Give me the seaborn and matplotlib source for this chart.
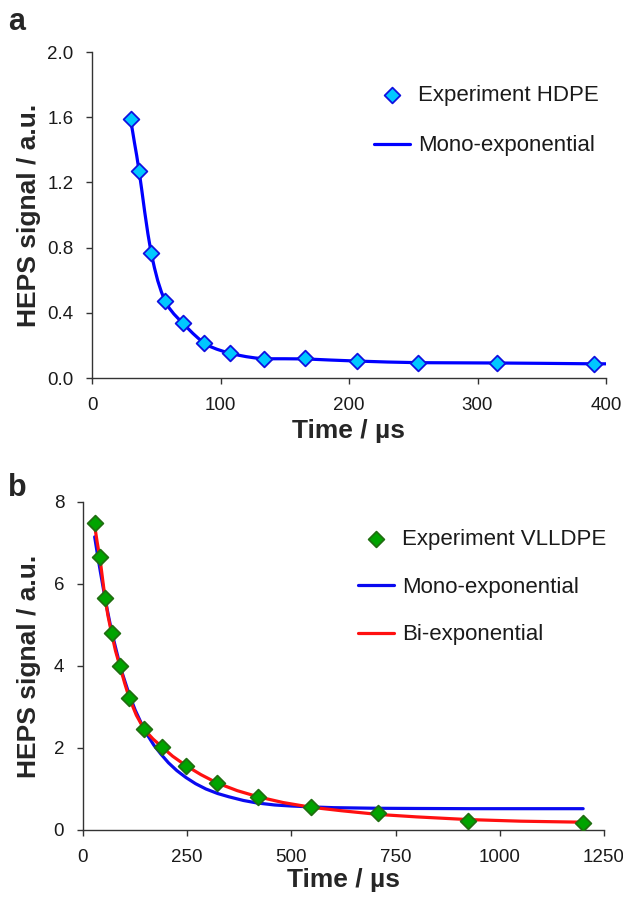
import matplotlib
matplotlib.use("Agg")
import matplotlib.pyplot as plt
import seaborn as sns
import pandas as pd

# ---------------- data: panel a (HDPE) ----------------
a_time = [30, 36.6, 46, 57, 71, 87, 107.5, 134, 166, 206, 254, 315, 391]
a_signal = [1.587, 1.272, 0.769, 0.470, 0.338, 0.216, 0.153, 0.118, 0.122, 0.106, 0.094, 0.092, 0.087]
# mono-exponential fit curve, read along the drawn (smoothed) line
a_mono_t = [30, 31.6, 33.1, 34.8, 36.6, 38.7, 41.0, 43.5, 46, 48.6, 51.2, 54.0, 57, 60.2, 63.7, 67.2,
            71, 74.8, 78.6, 82.8, 87, 92, 97, 102, 107.5, 114, 120, 127, 134, 150, 166, 186, 206, 230,
            254, 285, 315, 350, 391, 400]
a_mono_y = [1.587, 1.513, 1.441, 1.364, 1.272, 1.155, 1.020, 0.885, 0.769, 0.676, 0.596, 0.528, 0.470, 0.428,
            0.393, 0.364, 0.338, 0.303, 0.273, 0.243, 0.216, 0.193, 0.177, 0.164, 0.153, 0.140, 0.131, 0.123,
            0.118, 0.118, 0.117, 0.110, 0.104, 0.098, 0.094, 0.093, 0.092, 0.090, 0.087, 0.087]

# ---------------- data: panel b (VLLDPE) ----------------
b_time = [28.7, 41.1, 52.6, 68.8, 88.9, 110.9, 147.2, 189.2, 246.6, 321.1, 420.5, 546.6, 708.1, 923.2, 1200.3]
b_signal = [7.48, 6.65, 5.66, 4.80, 4.00, 3.23, 2.47, 2.02, 1.57, 1.14, 0.80, 0.555, 0.408, 0.229, 0.163]
b_mono_t = [28, 35, 42, 50, 58, 66, 75, 85, 95, 110, 125, 140, 155, 170, 187, 205, 225, 247, 270, 295, 323,
            350, 385, 417, 460, 500, 544, 600, 706, 800, 927, 1050, 1200]
b_mono_y = [7.15, 6.70, 6.28, 5.82, 5.38, 4.98, 4.58, 4.17, 3.80, 3.33, 2.93, 2.60, 2.31, 2.07, 1.85, 1.64,
            1.45, 1.28, 1.13, 1.00, 0.89, 0.81, 0.72, 0.66, 0.61, 0.585, 0.565, 0.545, 0.53, 0.525, 0.52, 0.52, 0.52]
b_bi_t = [28, 34, 41, 47, 53, 60, 69, 78, 89, 100, 111, 128, 147, 168, 189, 215, 247, 283, 321, 370, 420,
          480, 547, 620, 708, 800, 923, 1050, 1200]
b_bi_y = [7.42, 7.02, 6.60, 6.12, 5.65, 5.22, 4.78, 4.37, 3.98, 3.58, 3.22, 2.80, 2.45, 2.22, 2.03, 1.80,
          1.57, 1.35, 1.15, 0.96, 0.81, 0.67, 0.555, 0.47, 0.38, 0.32, 0.255, 0.215, 0.19]

a_xticks = [0, 100, 200, 300, 400]
a_yticks = [0.0, 0.4, 0.8, 1.2, 1.6, 2.0]
b_xticks = [0, 250, 500, 750, 1000, 1250]
b_yticks = [0, 2, 4, 6, 8]

sns.set_style("ticks")
plt.rcParams['font.family'] = ['Liberation Sans', 'DejaVu Sans']

fig = plt.figure(figsize=(6.23, 8.98), dpi=100)
W, H = 623, 898

def axes_px(x0, x1, ytop, ybot):
    return fig.add_axes([x0 / W, 1 - ybot / H, (x1 - x0) / W, (ybot - ytop) / H])

A1 = (92, 606, 52, 378)
A2 = (83, 604, 502, 830)
ax1 = axes_px(*A1)
ax2 = axes_px(*A2)

df_a = pd.DataFrame({"t": a_time, "y": a_signal})
df_am = pd.DataFrame({"t": a_mono_t, "y": a_mono_y})
df_b = pd.DataFrame({"t": b_time, "y": b_signal})
df_bm = pd.DataFrame({"t": b_mono_t, "y": b_mono_y})
df_bb = pd.DataFrame({"t": b_bi_t, "y": b_bi_y})

msize = 64

# panel a
sns.scatterplot(data=df_a, x="t", y="y", ax=ax1, marker="D", s=msize,
                color="#00C8FF", edgecolor="#1010E0", linewidth=1.3,
                label="Experiment HDPE", zorder=4)
sns.lineplot(data=df_am, x="t", y="y", ax=ax1, color="#0000FF", linewidth=2.3,
             label="Mono-exponential", sort=False, zorder=3)

# panel b
sns.scatterplot(data=df_b, x="t", y="y", ax=ax2, marker="D", s=msize,
                color="#00A400", edgecolor="#1F6F10", linewidth=1.3,
                label="Experiment VLLDPE", zorder=4)
sns.lineplot(data=df_bm, x="t", y="y", ax=ax2, color="#0A0AF0", linewidth=2.3,
             label="Mono-exponential", sort=False, zorder=2)
sns.lineplot(data=df_bb, x="t", y="y", ax=ax2, color="#FF1010", linewidth=2.3,
             label="Bi-exponential", sort=False, zorder=3)

for ax, A, xt, yt, fmt, xl_off in [(ax1, A1, a_xticks, a_yticks, "{:.1f}", 41),
                                   (ax2, A2, b_xticks, b_yticks, "{:d}", 38)]:
    x0, x1, ytop, ybot = A
    ax.set_xlim(xt[0], xt[-1])
    ax.set_ylim(yt[0], yt[-1])
    ax.set_xticks(xt)
    ax.set_yticks(yt)
    ax.set_yticklabels([fmt.format(v) for v in yt])
    ax.set_xticklabels([str(v) for v in xt])
    for sp in ["top", "right"]:
        ax.spines[sp].set_visible(False)
    for sp in ["left", "bottom"]:
        ax.spines[sp].set_color("#333333")
        ax.spines[sp].set_linewidth(1.0)
    ax.tick_params(direction="out", length=4, width=1.0, color="#333333",
                   labelsize=13.5, labelcolor="#1a1a1a", pad=9.5)
    ax.set_xlabel("Time / µs", fontsize=19, fontweight="bold")
    ax.set_ylabel("HEPS signal / a.u.", fontsize=19, fontweight="bold")
    ax.yaxis.set_label_coords((41 - x0) / (x1 - x0), 0.5)
    ax.xaxis.set_label_coords(0.5, -xl_off / (ybot - ytop))
    for lab in ax.get_xticklabels():
        lab.set_clip_on(False)

leg1 = ax1.legend(frameon=False, loc="upper left",
                  bbox_to_anchor=((374 - A1[0]) / (A1[1] - A1[0]), (A1[3] - 85) / (A1[3] - A1[2])),
                  borderaxespad=0, borderpad=0, fontsize=16, handlelength=1.62,
                  handletextpad=0.36, labelspacing=1.32)
leg2 = ax2.legend(frameon=False, loc="upper left",
                  bbox_to_anchor=((358 - A2[0]) / (A2[1] - A2[0]), (A2[3] - 529) / (A2[3] - A2[2])),
                  borderaxespad=0, borderpad=0, fontsize=16, handlelength=1.62,
                  handletextpad=0.36, labelspacing=1.2)
for leg in (leg1, leg2):
    for t in leg.get_texts():
        t.set_color("#1a1a1a")

fig.text(8 / W, 1 - 22 / H, "a", fontsize=22, fontweight="bold", va="center", ha="left")
fig.text(8 / W, 1 - 488 / H, "b", fontsize=22, fontweight="bold", va="center", ha="left")

fig.savefig("out.png", dpi=100)
